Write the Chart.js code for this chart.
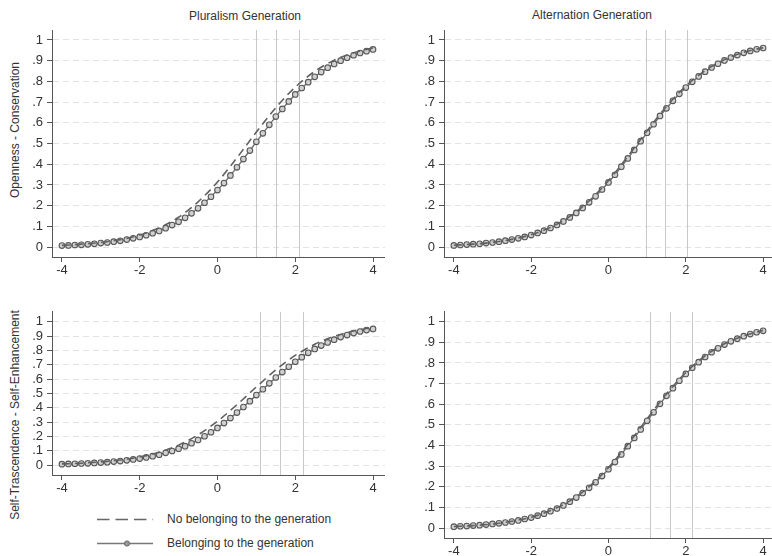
<!DOCTYPE html>
<html>
<head>
<meta charset="utf-8">
<script src="https://cdn.jsdelivr.net/npm/chart.js@4.4.1/dist/chart.umd.min.js"></script>
<style>
html, body { margin: 0; padding: 0; width: 772px; height: 556px; overflow: hidden; background: #fff; }
body { position: relative; font-family: "Liberation Sans", Arial, sans-serif; color: #333; }
.box { position: absolute; }
.title { position: absolute; font-size: 12px; white-space: nowrap; transform: translate(-50%, -50%); }
.ytitle { position: absolute; font-size: 12px; white-space: nowrap; transform: translate(-50%, -50%) rotate(-90deg); }
.leg { position: absolute; left: 97px; font-size: 12px; display: flex; align-items: center; }
.leg svg { margin-right: 14px; }
</style>
</head>
<body>
<div class="title" style="left:245px; top:16px;">Pluralism Generation</div>
<div class="title" style="left:592px; top:15px;">Alternation Generation</div>
<div class="ytitle" style="left:15px; top:130px;">Openness - Conservation</div>
<div class="ytitle" style="left:15px; top:415px;">Self-Trascendence - Self-Enhancement</div>

<div class="box" style="left:0; top:0; width:390px; height:285px;"><canvas id="c1"></canvas></div>
<div class="box" style="left:392px; top:0; width:388px; height:285px;"><canvas id="c2"></canvas></div>
<div class="box" style="left:0; top:300px; width:390px; height:203px;"><canvas id="c3"></canvas></div>
<div class="box" style="left:392px; top:300px; width:388px; height:266px;"><canvas id="c4"></canvas></div>

<div class="leg" style="top:511px;">
  <svg width="56" height="16"><line x1="0" y1="8.5" x2="56" y2="8.5" stroke="#666" stroke-width="1.5" stroke-dasharray="12.5,6"/></svg>
  <span>No belonging to the generation</span>
</div>
<div class="leg" style="top:535px;">
  <svg width="56" height="16"><line x1="0" y1="8.5" x2="56" y2="8.5" stroke="#777" stroke-width="1.5"/><circle cx="30" cy="8.5" r="2.6" fill="#999" stroke="#666" stroke-width="1"/></svg>
  <span>Belonging to the generation</span>
</div>

<script>
// x positions of the predicted points
const xGrid = [-4, -3.833, -3.667, -3.5, -3.333, -3.167, -3, -2.833, -2.667, -2.5, -2.333, -2.167,
  -2, -1.833, -1.667, -1.5, -1.333, -1.167, -1, -0.833, -0.667, -0.5, -0.333, -0.167,
  0, 0.167, 0.333, 0.5, 0.667, 0.833, 1, 1.167, 1.333, 1.5, 1.667, 1.833,
  2, 2.167, 2.333, 2.5, 2.667, 2.833, 3, 3.167, 3.333, 3.5, 3.667, 3.833, 4];
const xDash = [-4, -3.5, -3, -2.5, -2, -1.5, -1, -0.5, 0, 0.5, 1, 1.5, 2, 2.5, 3, 3.5, 4];

// Openness - Conservation
const plurOpenBelong = [0.007, 0.008, 0.010, 0.011, 0.013, 0.016, 0.019, 0.022, 0.026, 0.030, 0.036, 0.042,
  0.049, 0.057, 0.067, 0.078, 0.091, 0.106, 0.122, 0.141, 0.163, 0.187, 0.214, 0.243,
  0.275, 0.309, 0.346, 0.385, 0.425, 0.466, 0.508, 0.549, 0.590, 0.630, 0.667, 0.703,
  0.737, 0.768, 0.796, 0.822, 0.845, 0.866, 0.884, 0.900, 0.914, 0.926, 0.937, 0.946, 0.954];
const plurOpenNo = [0.008, 0.014, 0.022, 0.036, 0.058, 0.093, 0.144, 0.218, 0.314, 0.431, 0.555, 0.673, 0.772, 0.848, 0.902, 0.938, 0.962];
const altOpenBelong = [0.008, 0.010, 0.012, 0.014, 0.016, 0.019, 0.022, 0.026, 0.031, 0.036, 0.042, 0.049,
  0.058, 0.068, 0.079, 0.092, 0.107, 0.124, 0.143, 0.165, 0.189, 0.216, 0.245, 0.278,
  0.312, 0.349, 0.388, 0.428, 0.469, 0.511, 0.552, 0.593, 0.633, 0.670, 0.706, 0.740,
  0.770, 0.798, 0.824, 0.847, 0.867, 0.885, 0.901, 0.915, 0.927, 0.938, 0.947, 0.955, 0.961];
const altOpenNo = [0.009, 0.014, 0.023, 0.037, 0.060, 0.095, 0.148, 0.223, 0.321, 0.438, 0.562, 0.679, 0.777, 0.852, 0.905, 0.940, 0.963];

// Self-Trascendence - Self-Enhancement
const plurSelfBelong = [0.006, 0.008, 0.009, 0.011, 0.012, 0.015, 0.017, 0.020, 0.024, 0.028, 0.033, 0.039,
  0.045, 0.053, 0.062, 0.072, 0.085, 0.098, 0.114, 0.132, 0.152, 0.175, 0.201, 0.229,
  0.259, 0.293, 0.328, 0.366, 0.405, 0.446, 0.488, 0.529, 0.570, 0.611, 0.649, 0.686,
  0.721, 0.753, 0.783, 0.810, 0.834, 0.856, 0.875, 0.893, 0.907, 0.921, 0.932, 0.942, 0.950];
const plurSelfNo = [0.008, 0.013, 0.022, 0.035, 0.056, 0.090, 0.139, 0.211, 0.306, 0.421, 0.545, 0.664, 0.765, 0.843, 0.898, 0.936, 0.960];
const altSelfBelong = [0.007, 0.009, 0.010, 0.012, 0.014, 0.017, 0.020, 0.023, 0.027, 0.032, 0.037, 0.044,
  0.051, 0.060, 0.070, 0.082, 0.095, 0.110, 0.128, 0.148, 0.170, 0.195, 0.222, 0.252,
  0.285, 0.320, 0.357, 0.397, 0.437, 0.478, 0.520, 0.561, 0.602, 0.641, 0.678, 0.714,
  0.747, 0.777, 0.804, 0.829, 0.852, 0.871, 0.889, 0.905, 0.918, 0.930, 0.940, 0.949, 0.956];
const altSelfNo = [0.008, 0.012, 0.020, 0.033, 0.053, 0.085, 0.132, 0.201, 0.293, 0.406, 0.530, 0.650, 0.754, 0.835, 0.893, 0.932, 0.958];

// vertical reference lines
const plurOpenCuts = [1.0, 1.5, 2.1];
const altOpenCuts = [0.97, 1.46, 2.04];
const plurSelfCuts = [1.1, 1.61, 2.21];
const altSelfCuts = [1.08, 1.59, 2.15];

Chart.defaults.font.family = '"Liberation Sans", Arial, sans-serif';
Chart.defaults.color = '#333';

const cutLines = {
    id: 'cutLines',
    beforeDatasetsDraw(chart, args, opts) {
        const {ctx, chartArea, scales} = chart;
        ctx.save();
        ctx.strokeStyle = '#c8c8c8';
        ctx.lineWidth = 1;
        (opts.values || []).forEach(v => {
            const px = Math.round(scales.x.getPixelForValue(v)) + 0.5;
            ctx.beginPath();
            ctx.moveTo(px, chartArea.top);
            ctx.lineTo(px, chartArea.bottom);
            ctx.stroke();
        });
        ctx.restore();
    }
};

function yLabel(v) {
    const r = Math.round(v * 10) / 10;
    if (r === 0) return '0';
    if (r === 1) return '1';
    return String(r).replace(/^0/, '');
}

function makeChart(id, belong, noBelong, cuts, padTop, padRight, yPad) {
    return new Chart(document.getElementById(id), {
        type: 'line',
        data: {
            datasets: [{
                label: 'No belonging to the generation',
                data: xDash.map((x, i) => ({x, y: noBelong[i]})),
                borderColor: '#606060',
                borderWidth: 1.6,
                borderDash: [8, 5],
                pointRadius: 0,
                cubicInterpolationMode: 'monotone'
            }, {
                label: 'Belonging to the generation',
                data: xGrid.map((x, i) => ({x, y: belong[i]})),
                borderColor: '#707070',
                borderWidth: 1.4,
                pointRadius: 2.8,
                pointBorderWidth: 1.1,
                pointBorderColor: '#585858',
                pointBackgroundColor: '#d0d0d0',
                tension: 0
            }]
        },
        options: {
            responsive: true,
            maintainAspectRatio: false,
            animation: false,
            layout: {padding: {top: padTop, right: padRight, left: 0, bottom: 0}},
            plugins: {
                legend: {display: false},
                tooltip: {enabled: false},
                cutLines: {values: cuts}
            },
            scales: {
                x: {
                    type: 'linear',
                    min: -4.255,
                    max: 4.305,
                    afterFit: s => { s.height = 28; },
                    ticks: {stepSize: 2, includeBounds: false, autoSkip: false, maxRotation: 0, padding: 1, font: {size: 13}, color: '#333'},
                    grid: {drawOnChartArea: false, drawTicks: true, tickLength: 5, tickColor: '#555'},
                    border: {display: true, color: '#555', width: 1}
                },
                y: {
                    min: -yPad,
                    max: 1 + yPad,
                    afterFit: s => { s.width = 52; },
                    ticks: {stepSize: 0.1, includeBounds: false, autoSkip: false, padding: 4, font: {size: 13}, color: '#333', callback: yLabel},
                    grid: {color: '#e2e2e2', lineWidth: 1, drawTicks: true, tickLength: 5, tickColor: '#555'},
                    border: {display: true, color: '#555', width: 1, dash: [6, 4]}
                }
            }
        },
        plugins: [cutLines]
    });
}

makeChart('c1', plurOpenBelong, plurOpenNo, plurOpenCuts, 30, 2, 0.048);
makeChart('c2', altOpenBelong, altOpenNo, altOpenCuts, 30, 0, 0.048);
makeChart('c3', plurSelfBelong, plurSelfNo, plurSelfCuts, 11, 2, 0.0694);
makeChart('c4', altSelfBelong, altSelfNo, altSelfCuts, 11, 0, 0.048);
</script>
</body>
</html>
